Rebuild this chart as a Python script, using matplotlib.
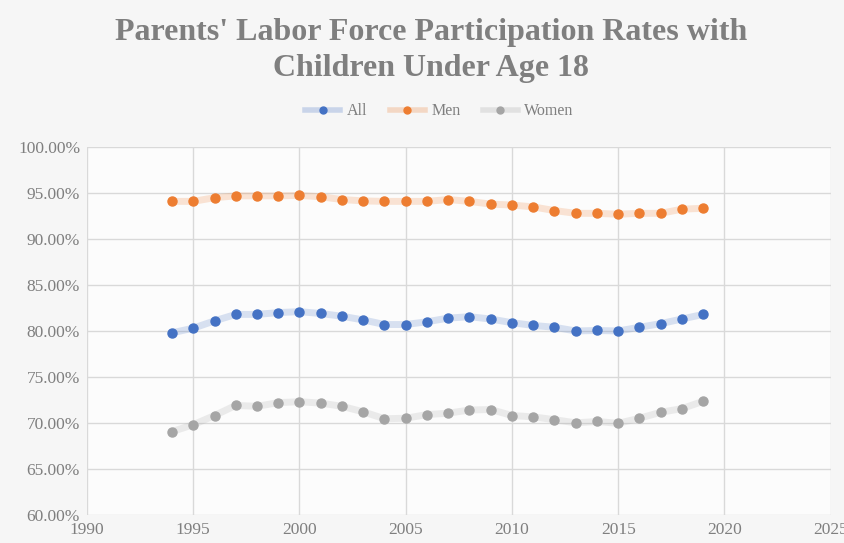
import matplotlib.pyplot as plt
from matplotlib.colors import to_rgba
from matplotlib.lines import Line2D
from matplotlib.ticker import FuncFormatter, MultipleLocator

# Data (percent)
years = list(range(1994, 2020))
all_parents = [79.8, 80.3, 81.1, 81.8, 81.8, 82.0, 82.1, 81.9, 81.6, 81.2,
               80.7, 80.7, 81.0, 81.4, 81.55, 81.3, 80.9, 80.6, 80.4, 80.0,
               80.05, 80.0, 80.4, 80.8, 81.3, 81.8]
men = [94.1, 94.1, 94.5, 94.7, 94.7, 94.7, 94.75, 94.6, 94.3, 94.15,
       94.1, 94.1, 94.1, 94.3, 94.1, 93.8, 93.7, 93.5, 93.1, 92.8,
       92.8, 92.7, 92.8, 92.8, 93.25, 93.35]
women = [69.05, 69.8, 70.8, 71.9, 71.8, 72.2, 72.3, 72.15, 71.8, 71.2,
         70.45, 70.5, 70.9, 71.05, 71.4, 71.45, 70.8, 70.65, 70.35, 70.0,
         70.15, 69.95, 70.5, 71.15, 71.55, 72.35]

series = [("All", all_parents, "#4472C4"),
          ("Men", men, "#ED7D31"),
          ("Women", women, "#A5A5A5")]

serif = ["Liberation Serif", "DejaVu Serif"]
gray = "#7f7f7f"

fig = plt.figure(figsize=(8.45, 5.43), dpi=100, facecolor="#f6f6f6")
ax = fig.add_axes([0.103, 0.052, 0.880, 0.677])
ax.set_facecolor("#fcfcfc")

for name, vals, color in series:
    ax.plot(years, vals, color=color, alpha=0.2, linewidth=5, solid_capstyle="round", zorder=2)
    ax.plot(years, vals, linestyle="none", marker="o", markersize=6.5,
            color=color, zorder=3)

ax.set_xlim(1990, 2025)
ax.set_ylim(60, 100)
ax.xaxis.set_major_locator(MultipleLocator(5))
ax.yaxis.set_major_locator(MultipleLocator(5))
ax.yaxis.set_major_formatter(FuncFormatter(lambda v, p: "%.2f%%" % v))
ax.grid(True, color="#d9d9d9", linewidth=1)
ax.set_axisbelow(True)
for s in ax.spines.values():
    s.set_visible(False)
ax.tick_params(length=0, labelcolor=gray, labelsize=12.5, pad=5)
for lab in ax.get_xticklabels() + ax.get_yticklabels():
    lab.set_family(serif)

fig.text(0.51, 0.907, "Parents' Labor Force Participation Rates with\nChildren Under Age 18",
         ha="center", va="center", fontsize=23, fontweight="bold", color=gray,
         family=serif, linespacing=1.3)

handles = [Line2D([], [], color=to_rgba(c, 0.25), linewidth=4, marker="o",
                  markersize=5, markerfacecolor=c, markeredgecolor=c)
           for _, _, c in series]
leg = fig.legend(handles=handles, labels=[n for n, _, _ in series],
                 loc="center", bbox_to_anchor=(0.52, 0.795), ncol=3, frameon=False,
                 prop={"family": serif, "size": 11.5}, handlelength=2.2,
                 columnspacing=1.4, handletextpad=0.4)
for t in leg.get_texts():
    t.set_color(gray)

fig.savefig("out.png", dpi=100, facecolor=fig.get_facecolor())
